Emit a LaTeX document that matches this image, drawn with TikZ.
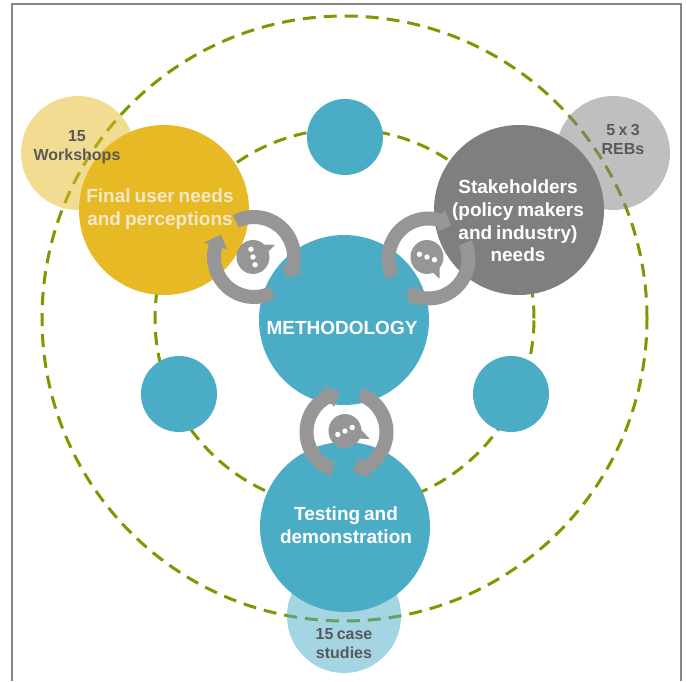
\documentclass[tikz,border=0pt]{standalone}
\usepackage{fontspec}
\setmainfont[WordSpace=0.75]{Liberation Sans}
\definecolor{ringgreen}{HTML}{7A9A01}
\definecolor{methodblue}{HTML}{4BACC6}
\definecolor{usergold}{HTML}{E6B925}
\definecolor{stakegray}{HTML}{7F7F7F}
\definecolor{turngray}{HTML}{969696}
\definecolor{smalltext}{HTML}{595959}
\definecolor{usertext}{HTML}{F3E9C8}
\definecolor{framegray}{HTML}{868686}
\tikzset{
  ring/.style={circle,draw=ringgreen,line width=3pt,dash pattern=on 13pt off 8pt,inner sep=0pt},
  bigdisc/.style={circle,minimum size=170pt,inner sep=0pt},
  minidisc/.style={circle,minimum size=76pt,inner sep=0pt,fill=methodblue},
  paledisc/.style={circle,minimum size=114pt,inner sep=0pt,fill opacity=0.5},
  bigtext/.style={font=\bfseries\fontsize{19}{22.6}\selectfont,align=center,inner sep=0pt},
  smalllabel/.style={font=\bfseries\fontsize{16}{19}\selectfont,align=center,inner sep=0pt,text=smalltext}
}
% one fat arc: centre, tail angle, end of band, tip angle
\newcommand{\turnarrow}[4]{
  \fill[turngray,shift={(#1)}] (#2:47pt) arc[start angle=#2,end angle=#3,radius=47pt]
    -- (#3:52pt) -- (#4:40pt) -- (#3:28pt) -- (#3:33pt)
    arc[start angle=#3,end angle=#2,radius=33pt] -- cycle;
}
% speech bubble: centre, tail angle, tail length, angle of the dots
\newcommand{\talkbubble}[4]{
  \fill[turngray,shift={(#1)}] (0,0) ellipse[x radius=16.5pt,y radius=17pt];
  \fill[turngray,shift={(#1)}] ({#2+28}:15pt) -- (#2:#3) -- ({#2-12}:15pt) -- cycle;
  \foreach \k in {-8,0,8}
    \fill[white,shift={(#1)}] (#4:\k pt) circle[radius=2.7pt];
}
\begin{document}
\begin{tikzpicture}[x=1pt,y=1pt]
\useasboundingbox (0,0) rectangle (686,681);
\draw[framegray,line width=1.5pt] (12,0) -- (12,677) -- (681,677) -- (681,0);
% dashed rings
\node (outerring) at (344.5,362.5) [ring,minimum size=605pt] {};
\node (innerring) at (344.5,362.5) [ring,minimum size=379pt] {};
% pale discs
\node (workshops) at (78,528) [paledisc,fill=usergold] {};
\node (rebs) at (613,528) [paledisc,fill=stakegray] {};
\node (cases) at (344,65) [paledisc,fill=methodblue] {};
% small blue discs
\node (topdisc) at (345,544) [minidisc] {};
\node (leftdisc) at (179,287) [minidisc] {};
\node (rightdisc) at (511,287) [minidisc] {};
% big discs
\node (final) at (164,471) [bigdisc,fill=usergold] {};
\node (stake) at (519,471) [bigdisc,fill=stakegray] {};
\node (method) at (344,361) [bigdisc,fill=methodblue] {};
\node (test) at (345,154) [bigdisc,fill=methodblue] {};
% turning arrows
\turnarrow{254,424}{117}{-17}{-32}
\turnarrow{254,424}{-63}{-196}{-214}
\turnarrow{428.5,422.5}{206}{72}{56}
\turnarrow{428.5,422.5}{23}{-110}{-125}
\turnarrow{346.5,249}{250}{117}{99}
\turnarrow{346.5,249}{70}{-62}{-81}
% bubbles
\talkbubble{253,424}{29}{25pt}{-75}
\talkbubble{427,424}{-60}{25pt}{-20}
\talkbubble{345,250}{-18}{26pt}{26}
% texts
\node (finaltext) at (160,472) [bigtext,text=usertext] {Final user needs\\and perceptions};
\node (staketext) at (518,460) [bigtext,text=white] {Stakeholders\\(policy makers\\and industry)\\needs};
\node (methodtext) at (342,353) [bigtext,text=white] {METHODOLOGY};
\node (testtext) at (346,156) [bigtext,text=white] {Testing and\\demonstration};
\node (workshoptext) at (77,534) [smalllabel] {15\\Workshops};
\node (rebtext) at (623,542) [smalllabel] {5 x 3\\REBs};
\node (casetext) at (344,37) [smalllabel] {15 case\\studies};
\end{tikzpicture}
\end{document}
